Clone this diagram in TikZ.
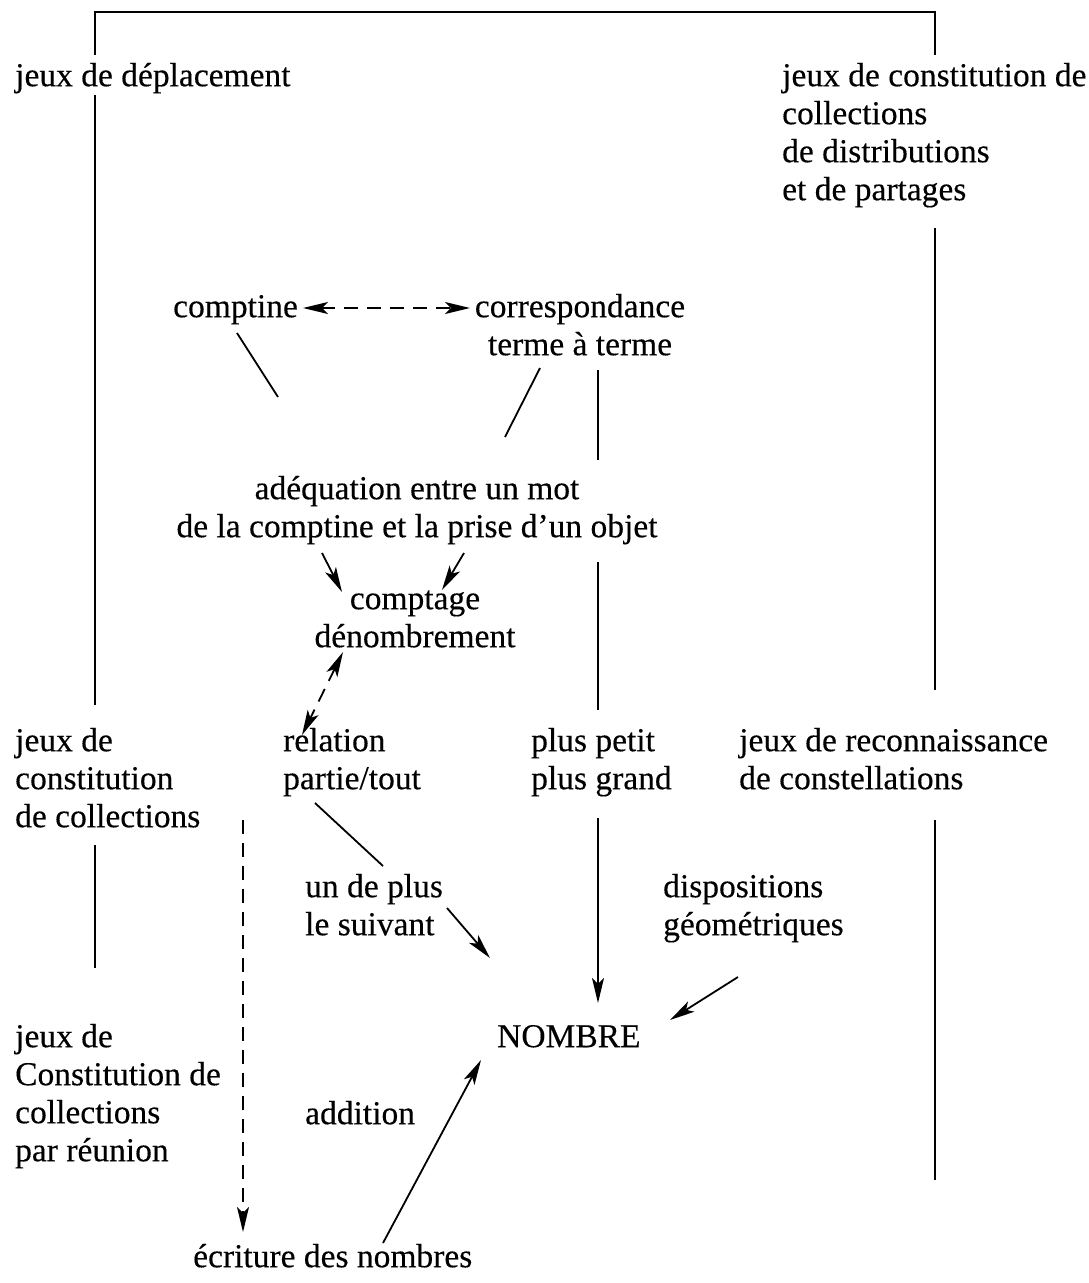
\documentclass[tikz,border=0pt]{standalone}
\usepackage{fontspec}
\setmainfont[FakeBold=0.3]{Liberation Serif}
\usetikzlibrary{arrows.meta}
\begin{document}
\begin{tikzpicture}[x=1pt,y=-1pt,
  lbl/.style={anchor=north west, inner sep=0pt, align=left, font=\fontsize{33.5}{38}\selectfont},
  clbl/.style={anchor=north, inner sep=0pt, align=center, font=\fontsize{33.5}{38}\selectfont},
  ln/.style={line width=1.8pt},
  tip/.style={-{Stealth[length=25pt,width=12pt,inset=6pt]}},
  arr/.style={ln, tip},
  dtip/.style={{Stealth[length=25pt,width=12pt,inset=6pt]}-{Stealth[length=25pt,width=12pt,inset=6pt]}},
  dsh/.style={ln, dash pattern=on 14pt off 9pt}]
\useasboundingbox (0,0) rectangle (1089,1283);

% labels
\node[lbl] (dep) at (15,59.4) {\strut jeux de déplacement};
\node[lbl] (coll) at (782,59.4) {\strut jeux de constitution de\\collections\\de distributions\\et de partages};
\node[lbl] (comptine) at (173,290.4) {\strut comptine};
\node[clbl] (corr) at (580,290.4) {\strut correspondance\\terme à terme};
\node[clbl] (adeq) at (417,472.4) {\strut adéquation entre un mot\\de la comptine et la prise d’un objet};
\node[clbl] (compt) at (415,582.4) {\strut comptage\\dénombrement};
\node[lbl] (jcc) at (15,724.4) {\strut jeux de\\constitution\\de collections};
\node[lbl] (rel) at (283,724.4) {\strut relation\\partie/tout};
\node[lbl] (ppg) at (531,724.4) {\strut plus petit\\plus grand};
\node[lbl] (jrc) at (739,724.4) {\strut jeux de reconnaissance\\de constellations};
\node[lbl] (udp) at (305,870.4) {\strut un de plus\\le suivant};
\node[lbl] (disp) at (663,870.4) {\strut dispositions\\géométriques};
\node[lbl] (nombre) at (497,1020.4) {\strut NOMBRE};
\node[lbl] (jcr) at (15,1020.4) {\strut jeux de\\Constitution de\\collections\\par réunion};
\node[lbl] (add) at (305,1097.4) {\strut addition};
\node[lbl] (ecr) at (193,1240.4) {\strut écriture des nombres};

% endpoints
\coordinate (tl) at (95,12);
\coordinate (tr) at (935,12);
\coordinate (dep-top) at (95,55);
\coordinate (coll-top) at (935,55);
\coordinate (dep-bot) at (95,95);
\coordinate (jcc-top) at (95,705);
\coordinate (jcc-bot) at (95,845);
\coordinate (jcr-top) at (95,968);
\coordinate (coll-bot) at (935,228);
\coordinate (jrc-top) at (935,690);
\coordinate (jrc-bot) at (935,820);
\coordinate (jrc-end) at (935,1180);
\coordinate (comptine-e) at (303,308);
\coordinate (corr-w) at (470,308);
\coordinate (comptine-s) at (237,333);
\coordinate (adeq-nw) at (278,397);
\coordinate (corr-s) at (540,368);
\coordinate (adeq-ne) at (505,437);
\coordinate (v1a) at (598,370);
\coordinate (v1b) at (598,460);
\coordinate (v2a) at (598,562);
\coordinate (v2b) at (598,710);
\coordinate (ppg-s) at (598,818);
\coordinate (nombre-n) at (598,1003);
\coordinate (adeq-sl) at (322,553);
\coordinate (compt-nl) at (342,592);
\coordinate (adeq-sr) at (464,553);
\coordinate (compt-nr) at (442,590);
\coordinate (compt-s) at (343,652);
\coordinate (rel-n) at (302,735);
\coordinate (rel-s) at (315,803);
\coordinate (udp-n) at (383,866);
\coordinate (udp-e) at (447,908);
\coordinate (nombre-nw) at (490,958);
\coordinate (disp-s) at (738,977);
\coordinate (nombre-e) at (670,1020);
\coordinate (ecr-n) at (383,1243);
\coordinate (nombre-sw) at (481,1060);
\coordinate (dl-top) at (243,820);
\coordinate (ecr-nw) at (243,1232);

% frame
\draw[line width=2.2pt] (dep-top) -- (tl) -- (tr) -- (coll-top);
\draw[ln] (dep-bot) -- (jcc-top);
\draw[ln] (jcc-bot) -- (jcr-top);
\draw[ln] (coll-bot) -- (jrc-top);
\draw[ln] (jrc-bot) -- (jrc-end);

% centre
\draw[dsh, dtip] (comptine-e) -- (corr-w);
\draw[ln] (comptine-s) -- (adeq-nw);
\draw[ln] (corr-s) -- (adeq-ne);
\draw[ln] (v1a) -- (v1b);
\draw[ln] (v2a) -- (v2b);
\draw[arr] (ppg-s) -- (nombre-n);
\draw[arr] (adeq-sl) -- (compt-nl);
\draw[arr] (adeq-sr) -- (compt-nr);
\draw[dsh, dtip] (compt-s) -- (rel-n);
\draw[ln] (rel-s) -- (udp-n);
\draw[arr] (udp-e) -- (nombre-nw);
\draw[arr] (disp-s) -- (nombre-e);
\draw[arr] (ecr-n) -- (nombre-sw);
\draw[dsh, tip] (dl-top) -- (ecr-nw);
\end{tikzpicture}
\end{document}
